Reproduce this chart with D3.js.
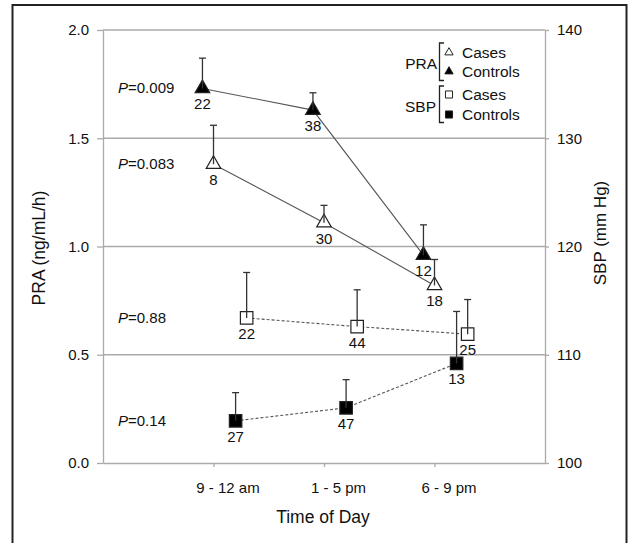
<!DOCTYPE html>
<html>
<head>
<meta charset="utf-8">
<script src="https://cdn.jsdelivr.net/npm/d3@7"></script>
<style>
  body { margin: 0; background: #fff; }
  svg text { font-family: "Liberation Sans", Arial, sans-serif; fill: #111; }
</style>
</head>
<body>
<div id="chart"></div>
<script>
// data
var categories = ["9 - 12 am", "1 - 5 pm", "6 - 9 pm"];

var praControls = [1.73, 1.63, 0.96];
var praControlsSE = [0.14, 0.08, 0.14];
var praControlsN = [22, 38, 12];

var praCases = [1.38, 1.11, 0.82];
var praCasesSE = [0.18, 0.08, 0.12];
var praCasesN = [8, 30, 18];

var sbpCases = [113.4, 112.6, 111.9];
var sbpCasesSE = [4.2, 3.4, 3.2];
var sbpCasesN = [22, 44, 25];

var sbpControls = [103.9, 105.1, 109.2];
var sbpControlsSE = [2.6, 2.6, 4.8];
var sbpControlsN = [27, 47, 13];

var pValues = ["0.009", "0.083", "0.88", "0.14"];

var praTicks = [0, 0.5, 1.0, 1.5, 2.0];
var sbpTicks = [100, 110, 120, 130, 140];

var W = 629, H = 543;
var plotL = 103, plotR = 545, plotT = 30, plotB = 463;

var svg = d3.select("#chart").append("svg")
    .attr("width", W)
    .attr("height", H);

// outer frame
svg.append("rect")
    .attr("x", 12.5).attr("y", 5)
    .attr("width", 614).attr("height", 600)
    .attr("fill", "none")
    .attr("stroke", "#222")
    .attr("stroke-width", 2);

var x = d3.scaleLinear().domain([0, 4]).range([plotL, plotR]);
var yL = d3.scaleLinear().domain([0, 2]).range([plotB, plotT]);
var yR = d3.scaleLinear().domain([100, 140]).range([plotB, plotT]);

var grey = "#aaa";

// gridlines
svg.append("g").selectAll("line")
    .data(praTicks.slice(1))
    .enter().append("line")
    .attr("x1", plotL).attr("x2", plotR)
    .attr("y1", function (d) { return yL(d); })
    .attr("y2", function (d) { return yL(d); })
    .attr("stroke", grey)
    .attr("stroke-width", 1.3);

function styleAxis(g) {
    g.selectAll("path").attr("stroke", grey).attr("stroke-width", 1.3);
    g.selectAll("line").attr("stroke", grey).attr("stroke-width", 1.3);
    g.selectAll("text").attr("font-size", 15).attr("fill", "#111")
        .attr("font-family", "Liberation Sans, Arial, sans-serif");
}

// left axis
svg.append("g")
    .attr("transform", "translate(" + plotL + ",0)")
    .call(d3.axisLeft(yL).tickValues(praTicks).tickFormat(d3.format(".1f"))
        .tickSize(6).tickSizeOuter(0).tickPadding(8))
    .call(styleAxis);

// right axis
svg.append("g")
    .attr("transform", "translate(" + plotR + ",0)")
    .call(d3.axisRight(yR).tickValues(sbpTicks).tickSize(4).tickSizeOuter(0).tickPadding(8))
    .call(styleAxis);

// bottom axis
var xAxis = svg.append("g")
    .attr("transform", "translate(0," + plotB + ")")
    .call(d3.axisBottom(x).tickValues([1, 2, 3])
        .tickFormat(function (d) { return categories[d - 1]; })
        .tickSize(4).tickSizeOuter(0).tickPadding(15))
    .call(styleAxis);
xAxis.selectAll("text").attr("dx", 14);

// axis titles
svg.append("text")
    .attr("transform", "translate(45,248) rotate(-90)")
    .attr("text-anchor", "middle")
    .attr("font-size", 17.5)
    .text("PRA (ng/mL/h)");

svg.append("text")
    .attr("transform", "translate(606,233) rotate(-90)")
    .attr("text-anchor", "middle")
    .attr("font-size", 17)
    .text("SBP (mm Hg)");

svg.append("text")
    .attr("x", 323).attr("y", 523)
    .attr("text-anchor", "middle")
    .attr("font-size", 17.5)
    .text("Time of Day");

var series = [
    { values: praControls, se: praControlsSE, n: praControlsN, y: yL, shape: "tri", filled: true, dashed: false, off: -0.1 },
    { values: praCases, se: praCasesSE, n: praCasesN, y: yL, shape: "tri", filled: false, dashed: false, off: 0 },
    { values: sbpCases, se: sbpCasesSE, n: sbpCasesN, y: yR, shape: "sq", filled: false, dashed: true, off: 0.3 },
    { values: sbpControls, se: sbpControlsSE, n: sbpControlsN, y: yR, shape: "sq", filled: true, dashed: true, off: 0.2 }
];

series.forEach(function (s) {
    s.pts = s.values.map(function (v, i) {
        return { cx: x(i + 1 + s.off), cy: s.y(v), top: s.y(v + s.se[i]), n: s.n[i] };
    });
});

var line = d3.line().x(function (d) { return d.cx; }).y(function (d) { return d.cy; });

// connecting lines
series.forEach(function (s) {
    svg.append("path")
        .attr("d", line(s.pts))
        .attr("fill", "none")
        .attr("stroke", "#555")
        .attr("stroke-width", 1.1)
        .attr("stroke-dasharray", s.dashed ? "3,2" : null);
});

var triBig = d3.symbol().type(d3.symbolTriangle).size(92);
var sqBig = d3.symbol().type(d3.symbolSquare).size(156);

// markers, error bars, n labels
series.forEach(function (s) {
    var g = svg.append("g");
    g.selectAll(".m").data(s.pts).enter().append("path")
        .attr("d", s.shape == "tri" ? triBig : sqBig)
        .attr("transform", function (d) { return "translate(" + d.cx + "," + d.cy + ")"; })
        .attr("fill", s.filled ? "#000" : "#fff")
        .attr("stroke", "#222")
        .attr("stroke-width", 1.2);

    g.selectAll(".e").data(s.pts).enter().append("line")
        .attr("x1", function (d) { return d.cx; })
        .attr("x2", function (d) { return d.cx; })
        .attr("y1", function (d) { return d.cy; })
        .attr("y2", function (d) { return d.top; })
        .attr("stroke", "#333")
        .attr("stroke-width", 1.3);

    g.selectAll(".c").data(s.pts).enter().append("line")
        .attr("x1", function (d) { return d.cx - 3.5; })
        .attr("x2", function (d) { return d.cx + 3.5; })
        .attr("y1", function (d) { return d.top; })
        .attr("y2", function (d) { return d.top; })
        .attr("stroke", "#333")
        .attr("stroke-width", 1.3);

    g.selectAll(".n").data(s.pts).enter().append("text")
        .attr("x", function (d) { return d.cx; })
        .attr("y", function (d) { return d.cy + 21; })
        .attr("text-anchor", "middle")
        .attr("font-size", 15)
        .text(function (d) { return d.n; });
});

// P values, level with the first point of each series
series.forEach(function (s, i) {
    var t = svg.append("text")
        .attr("x", 118)
        .attr("y", s.pts[0].cy + 5)
        .attr("font-size", 15);
    t.append("tspan").attr("font-style", "italic").text("P");
    t.append("tspan").text("=" + pValues[i]);
});

// legend
var triSmall = d3.symbol().type(d3.symbolTriangle).size(30);
var sqSmall = d3.symbol().type(d3.symbolSquare).size(50);

function bracket(y1, y2) {
    svg.append("path")
        .attr("d", "M444," + y1 + "H439.5V" + y2 + "H444")
        .attr("fill", "none")
        .attr("stroke", "#222")
        .attr("stroke-width", 1.3);
}

var legendRows = [
    { sym: triSmall, filled: false, label: "Cases", y: 52.5 },
    { sym: triSmall, filled: true, label: "Controls", y: 71.5 },
    { sym: sqSmall, filled: false, label: "Cases", y: 94.5 },
    { sym: sqSmall, filled: true, label: "Controls", y: 114.5 }
];

legendRows.forEach(function (r) {
    svg.append("path")
        .attr("d", r.sym)
        .attr("transform", "translate(449," + r.y + ")")
        .attr("fill", r.filled ? "#000" : "#fff")
        .attr("stroke", "#222")
        .attr("stroke-width", 1);
    svg.append("text")
        .attr("x", 462).attr("y", r.y + 5)
        .attr("font-size", 15.5)
        .text(r.label);
});

svg.append("text").attr("x", 437).attr("y", 69).attr("text-anchor", "end")
    .attr("font-size", 15.5).text("PRA");
svg.append("text").attr("x", 436).attr("y", 111.5).attr("text-anchor", "end")
    .attr("font-size", 15.5).text("SBP");
bracket(43, 80.5);
bracket(86, 122.5);
</script>
</body>
</html>
